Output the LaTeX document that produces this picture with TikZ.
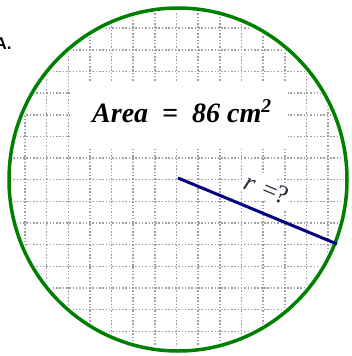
\documentclass[tikz,border=0pt]{standalone}
\usepackage{fontspec}
\setmainfont{Liberation Serif}
\setsansfont{Liberation Sans}
\definecolor{ringgreen}{RGB}{0,128,0}
\definecolor{radnavy}{RGB}{0,0,128}
\definecolor{dotgray}{RGB}{160,160,160}
\definecolor{labelgray}{RGB}{40,40,55}
\tikzset{
  gridline/.style={dotgray, line width=1.5pt, dash pattern=on 1.5pt off 1.8pt},
  ring/.style={ringgreen, line width=3.5pt},
  radius line/.style={radnavy, line width=3pt},
  areatext/.style={font=\bfseries\itshape\fontsize{28}{28}\selectfont, anchor=base west, inner sep=0pt},
  rlabel/.style={font=\fontsize{26}{26}\selectfont, fill=white, inner sep=3pt, text=labelgray},
  cornerlabel/.style={font=\sffamily\bfseries\fontsize{17}{17}\selectfont, anchor=base east, inner sep=0pt},
}
\begin{document}
\begin{tikzpicture}[x=1pt,y=-1pt]
\useasboundingbox (0,0) rectangle (351,356);
\coordinate (c) at (178,179.5);
\begin{scope}
  \clip (c) ellipse [x radius=166pt, y radius=168pt];
  \foreach \i in {0,...,16} {
    \draw[gridline] ({3.3+21.65*\i},0) -- ({3.3+21.65*\i},356);
  }
  \foreach \j in {0,...,16} {
    \draw[gridline] (0,{6.5+21.65*\j}) -- (351,{6.5+21.65*\j});
  }
\end{scope}
\fill[white] (70,83) rectangle (288,147);
\node[areatext] (area) at (92,122) {Area\ \ =\ \ 86 cm\textsuperscript{2}};
\draw[ring] (c) ellipse [x radius=169pt, y radius=171.5pt];
\coordinate (o) at (178,178);
\coordinate (e) at (337,244);
\draw[radius line] (o) -- (e);
\node[rlabel, rotate=-22.5] (r) at (267,189) {\textit{r}\,\,=?};
\node[cornerlabel] (lbl) at (11.8,49) {A.};
\end{tikzpicture}
\end{document}
